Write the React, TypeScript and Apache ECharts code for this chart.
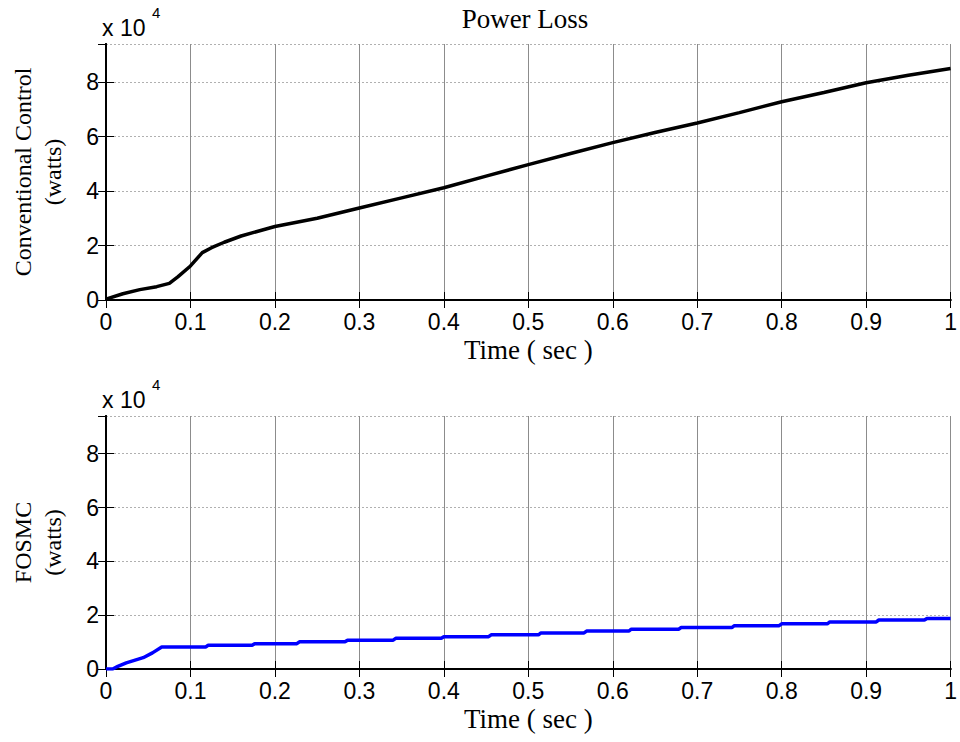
import React, { useEffect, useRef } from "react";
import * as echarts from "echarts";

// Conventional control power loss (watts)
const convTime = [0, 0.02, 0.04, 0.06, 0.075, 0.085, 0.1, 0.114, 0.125, 0.14, 0.16, 0.2, 0.25, 0.3, 0.35, 0.4, 0.45, 0.5, 0.55, 0.6, 0.65, 0.7, 0.75, 0.8, 0.85, 0.9, 0.95, 1.0];
const convPower = [300, 2300, 3800, 4900, 6100, 8500, 12500, 17400, 19200, 21200, 23500, 27000, 30000, 33800, 37500, 41200, 45500, 49700, 53800, 57800, 61500, 65000, 68800, 72800, 76200, 79800, 82500, 85000];

// FOSMC power loss (watts): initial ramp then small steps
const fosmcRampTime = [0, 0.008, 0.014, 0.024, 0.044, 0.055, 0.066];
const fosmcRampPower = [0, 0, 1000, 2300, 4200, 6000, 8200];
const fosmcStepTime = [0.118, 0.173, 0.226, 0.283, 0.34, 0.397, 0.453, 0.512, 0.566, 0.619, 0.678, 0.741, 0.797, 0.854, 0.912, 0.969];
const fosmcStepPower = [8800, 9400, 10100, 10700, 11400, 12000, 12700, 13400, 14100, 14800, 15400, 16100, 16800, 17500, 18200, 18800];

const xTickLabels = ["0", "0.1", "0.2", "0.3", "0.4", "0.5", "0.6", "0.7", "0.8", "0.9", "1"];

const SANS = "Liberation Sans";
const SERIF = "Liberation Serif";

export default function App() {
  const ref = useRef<HTMLDivElement>(null);
  useEffect(() => {
    if (!ref.current) return;
    const chart = echarts.init(ref.current, null, { renderer: "svg" });

    const convData = convTime.map((t, i) => [t, convPower[i]]);
    const fosmcData: number[][] = fosmcRampTime.map((t, i) => [t, fosmcRampPower[i]]);
    let prev = fosmcRampPower[fosmcRampPower.length - 1];
    fosmcStepTime.forEach((t, i) => {
      fosmcData.push([t, prev]);
      fosmcData.push([t + 0.003, fosmcStepPower[i]]);
      prev = fosmcStepPower[i];
    });
    fosmcData.push([1, prev]);

    const grids = [
      { left: 103, top: 44, width: 848, height: 256 },
      { left: 103, top: 416, width: 848, height: 253 },
    ];

    const xFmt = (v: number) => {
      const idx = Math.round(v * 10);
      return Math.abs(v * 10 - idx) < 1e-6 ? xTickLabels[idx] ?? "" : "";
    };
    const yFmt = (v: number) => (Math.abs(v % 20000) < 1e-6 && v <= 80000 ? String(v / 10000) : "");

    const xAxes: any[] = [];
    const yAxes: any[] = [];
    [0, 1].forEach((g) => {
      xAxes.push({
        type: "value",
        gridIndex: g,
        min: 0,
        max: 1,
        interval: 0.1,
        position: "bottom",
        name: "Time ( sec )",
        nameLocation: "middle",
        nameGap: 36,
        nameTextStyle: { fontFamily: SERIF, fontSize: 27, color: "#000" },
        axisLine: { show: true, lineStyle: { color: "#000", width: 2 } },
        axisTick: { show: true, inside: true, length: 8, lineStyle: { color: "#000", width: 1 } },
        axisLabel: { formatter: xFmt, fontFamily: SANS, fontSize: 23, color: "#000", margin: 10 },
        splitLine: { show: true, lineStyle: { color: "#8c8c8c", width: 1, type: "solid" } },
      });
      xAxes.push({
        type: "value",
        gridIndex: g,
        min: 0,
        max: 1,
        interval: 0.1,
        position: "top",
        axisLine: { show: true, lineStyle: { color: "#000", width: 2 } },
        axisTick: { show: true, inside: true, length: 8, lineStyle: { color: "#000", width: 1 } },
        axisLabel: { show: false },
        splitLine: { show: false },
      });
      yAxes.push({
        type: "value",
        gridIndex: g,
        min: 0,
        max: 94000,
        interval: 20000,
        position: "left",
        name: g === 0 ? "Conventional Control\n(watts)" : "FOSMC\n(watts)",
        nameLocation: "middle",
        nameGap: 38,
        nameTextStyle: { fontFamily: SERIF, fontSize: 24, color: "#000", lineHeight: 30 },
        axisLine: { show: true, lineStyle: { color: "#000", width: 2 } },
        axisTick: { show: true, inside: true, length: 8, lineStyle: { color: "#000", width: 1 } },
        axisLabel: { formatter: yFmt, fontFamily: SANS, fontSize: 23, color: "#000", margin: 7, showMaxLabel: false },
        splitLine: { show: true, lineStyle: { color: "#b0b0b0", width: 1, type: [2, 2] } },
      });
      yAxes.push({
        type: "value",
        gridIndex: g,
        min: 0,
        max: 94000,
        interval: 20000,
        position: "right",
        axisLine: { show: true, lineStyle: { color: "#000", width: 2 } },
        axisTick: { show: true, inside: true, length: 8, lineStyle: { color: "#000", width: 1 } },
        axisLabel: { show: false },
        splitLine: { show: false },
      });
    });

    const expLabel = (gTop: number) => [
      {
        type: "text",
        x: 102,
        y: gTop - 16,
        style: { text: "x 10", font: `23px ${SANS}`, fill: "#000", textAlign: "left", textVerticalAlign: "middle" },
      },
      {
        type: "text",
        x: 152,
        y: gTop - 32,
        style: { text: "4", font: `15px ${SANS}`, fill: "#000", textAlign: "left", textVerticalAlign: "middle" },
      },
    ];

    chart.setOption({
      animation: false,
      backgroundColor: "#fff",
      grid: grids,
      xAxis: xAxes,
      yAxis: yAxes,
      graphic: [
        {
          type: "text",
          x: 525,
          y: 19,
          style: { text: "Power Loss", font: `27px ${SERIF}`, fill: "#000", textAlign: "center", textVerticalAlign: "middle" },
        },
        ...expLabel(44),
        ...expLabel(416),
      ],
      series: [
        {
          type: "line",
          name: "Conventional Control",
          xAxisIndex: 0,
          yAxisIndex: 0,
          data: convData,
          showSymbol: false,
          symbol: "none",
          lineStyle: { color: "#000", width: 3.5 },
        },
        {
          type: "line",
          name: "FOSMC",
          xAxisIndex: 2,
          yAxisIndex: 2,
          data: fosmcData,
          showSymbol: false,
          symbol: "none",
          lineStyle: { color: "#0000ff", width: 3.5 },
        },
      ],
    });
    return () => chart.dispose();
  }, []);

  return <div ref={ref} style={{ width: 960, height: 742, position: "absolute", left: 0, top: 0 }} />;
}
